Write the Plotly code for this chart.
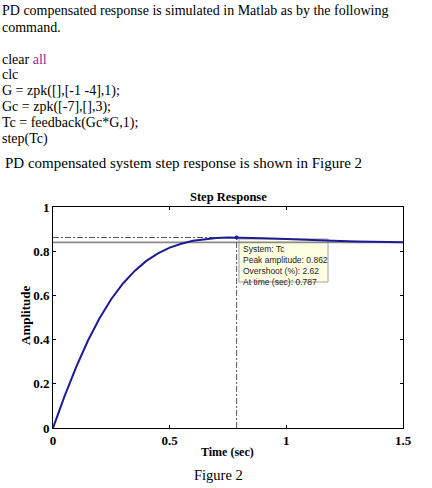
import plotly.graph_objects as go

# ---- data ----
time_s = [0.0, 0.05, 0.1, 0.15, 0.2, 0.25, 0.3, 0.35, 0.4, 0.45, 0.5, 0.55, 0.6,
          0.65, 0.7, 0.75, 0.787, 0.8, 0.85, 0.9, 1.0, 1.1, 1.2, 1.3, 1.4, 1.5]
amplitude = [0.0, 0.145, 0.278, 0.396, 0.498, 0.584, 0.654, 0.711, 0.756, 0.790,
             0.816, 0.834, 0.847, 0.855, 0.860, 0.862, 0.862, 0.862, 0.861, 0.859,
             0.855, 0.850, 0.847, 0.844, 0.842, 0.841]
final_value = 0.84
peak_time = 0.787
peak_amp = 0.862
overshoot = 2.62
x_ticks = [0, 0.5, 1, 1.5]
x_ticklabels = ["0", "0.5", "1", "1.5"]
y_ticks = [0, 0.2, 0.4, 0.6, 0.8, 1]
y_ticklabels = ["0", "0.2", "0.4", "0.6", "0.8", "1"]

W, H = 432, 488
L, R, T, B = 53, 403, 207, 428


def px(x):
    return (x - L) / (R - L)


def py(y):
    return (B - y) / (B - T)


serif = "Liberation Serif, Times New Roman, serif"
sans = "Liberation Sans, Arial, sans-serif"

fig = go.Figure()

# steady-state line
fig.add_trace(go.Scatter(x=[0, 1.5], y=[final_value, final_value], mode="lines",
                         line=dict(color="#8a8a8a", width=1.7), hoverinfo="skip"))
# peak guides
fig.add_trace(go.Scatter(x=[0, peak_time], y=[peak_amp, peak_amp], mode="lines",
                         line=dict(color="#555555", width=1, dash="6px,2px,2px,2px"),
                         hoverinfo="skip"))
fig.add_trace(go.Scatter(x=[peak_time, peak_time], y=[0, peak_amp], mode="lines",
                         line=dict(color="#555555", width=1, dash="6px,2px,2px,2px"),
                         hoverinfo="skip"))
# response
fig.add_trace(go.Scatter(x=time_s, y=amplitude, mode="lines",
                         line=dict(color="#1c1c94", width=2), hoverinfo="skip"))
# peak marker
fig.add_trace(go.Scatter(x=[peak_time], y=[peak_amp], mode="markers",
                         marker=dict(color="#1c1c94", size=4), hoverinfo="skip"))

axis_common = dict(showline=True, linecolor="black", linewidth=1, mirror="ticks",
                   ticks="inside", ticklen=3, tickcolor="black", showgrid=False,
                   zeroline=False,
                   tickfont=dict(family=serif, size=13, color="black", weight="bold"))
fig.update_xaxes(range=[0, 1.5], tickvals=x_ticks, ticktext=x_ticklabels, **axis_common)
fig.update_yaxes(range=[0, 1], tickvals=y_ticks, ticktext=y_ticklabels, **axis_common)

ann = []


def text(x, y, s, size=14, family=serif, xanchor="left", color="black", **kw):
    ann.append(dict(x=px(x), y=py(y), xref="paper", yref="paper", text=s,
                    showarrow=False, xanchor=xanchor, yanchor="middle",
                    font=dict(family=family, size=size, color=color), **kw))


text(0, 10, "PD compensated response is simulated in Matlab as by the following")
text(0, 27, "command.")
text(0, 59, "clear <span style='color:#8b2f9b'>all</span>")
text(0, 75, "clc")
text(0, 91, "G = zpk([],[-1 -4],1);")
text(0, 107, "Gc = zpk([-7],[],3);")
text(0, 123, "Tc = feedback(Gc*G,1);")
text(0, 139, "step(Tc)")
text(3, 163, "PD compensated system step response is shown in Figure 2", size=15)
text(228, 197, "<b>Step Response</b>", size=12.5, xanchor="center")
text(227, 452, "<b>Time (sec)</b>", size=12, xanchor="center")
text(218, 475, "Figure 2", size=14.5, xanchor="center")
ann.append(dict(x=px(25), y=py(316), xref="paper", yref="paper",
                text="<b>Amplitude</b>", showarrow=False, textangle=-90,
                xanchor="center", yanchor="middle",
                font=dict(family=serif, size=13, color="black")))

# datatip
ann.append(dict(x=px(241), y=py(242), xref="paper", yref="paper",
                text=("System: Tc<br>Peak amplitude: %.3f<br>Overshoot (%%): %.2f"
                      "<br>At time (sec): %.3f") % (peak_amp, overshoot, peak_time),
                showarrow=False, xanchor="left", yanchor="top", align="left",
                font=dict(family=sans, size=8.5, color="#222222")))

fig.update_layout(
    width=W, height=H,
    margin=dict(l=L, r=W - R, t=T, b=H - B, pad=0),
    paper_bgcolor="white", plot_bgcolor="white",
    showlegend=False,
    annotations=ann,
    shapes=[dict(type="rect", xref="paper", yref="paper",
                 x0=px(239), x1=px(328), y0=py(239), y1=py(282),
                 fillcolor="#ffffe1", line=dict(color="#a0a0a0", width=1),
                 layer="below")],
)

fig.write_html("out.html", config={"displayModeBar": False},
               post_script="document.body.style.margin='0';document.body.style.overflow='hidden';")
